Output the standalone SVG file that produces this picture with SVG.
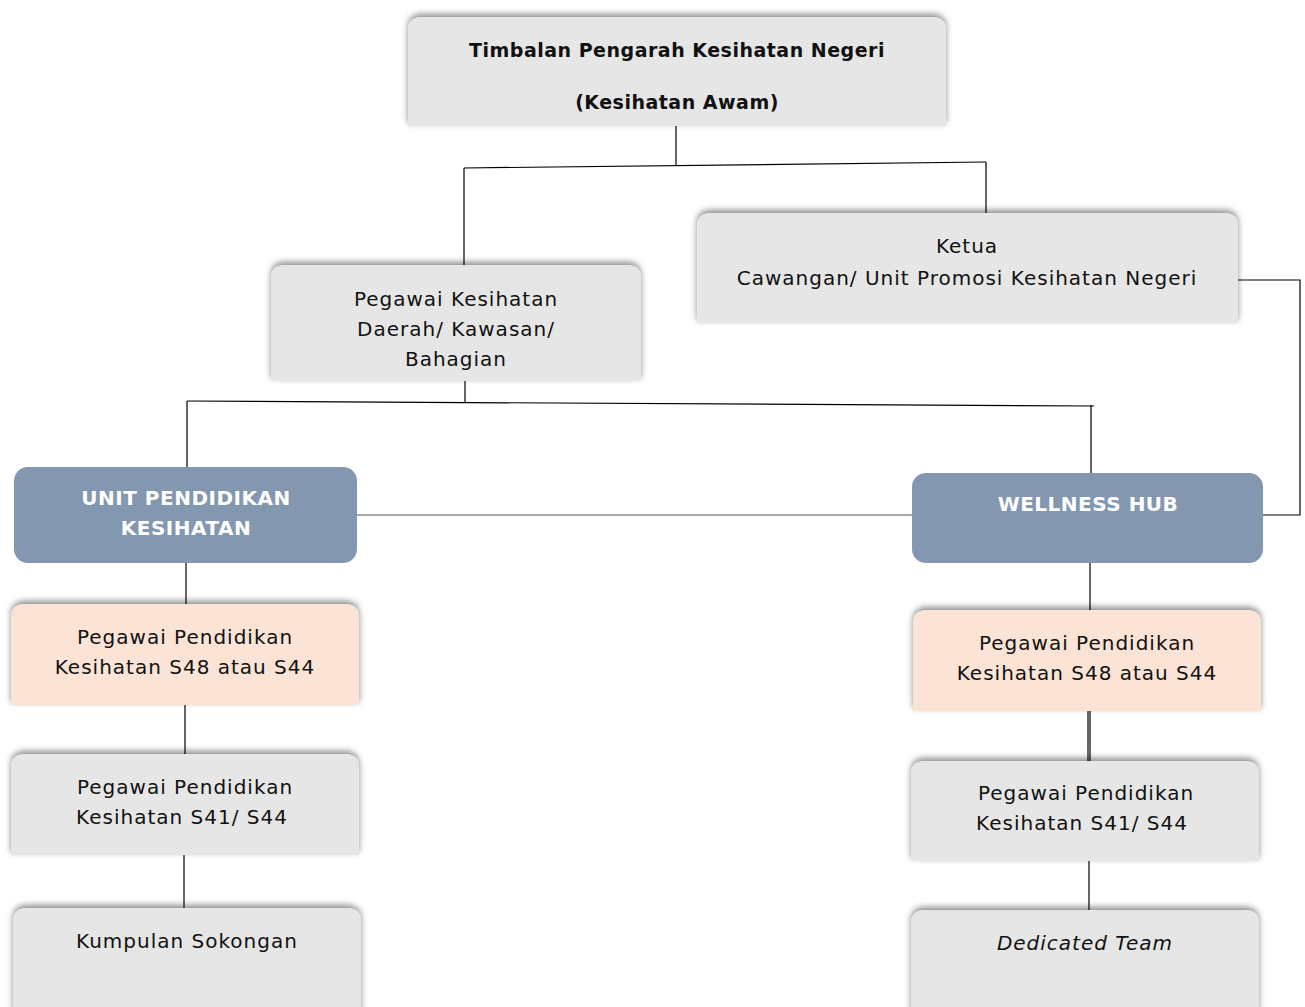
<svg xmlns="http://www.w3.org/2000/svg" width="1305" height="1007" viewBox="0 0 1305 1007">
<style>
.box{fill:#e6e6e6;filter:url(#sh)}
.peach{fill:#fbe4d5;filter:url(#sh)}
.blue{fill:#8497b0}
.t{font-family:"DejaVu Sans","Liberation Sans",sans-serif;font-size:20px;letter-spacing:1px;fill:#111;text-anchor:middle}
.b{font-weight:bold;font-size:19px;letter-spacing:0.5px}
.w{fill:#fff;font-weight:bold;font-size:20px;letter-spacing:0.5px}
.c{stroke:#000;stroke-width:1.2;fill:none}
.cg{stroke:#555;stroke-width:1.2;fill:none}
</style>
<defs>
<filter id="sh" x="-10%" y="-20%" width="120%" height="140%">
<feDropShadow dx="0" dy="-3" stdDeviation="3" flood-color="#000" flood-opacity="0.45"/>
</filter>
</defs>
<rect width="1305" height="1007" fill="#fff"/>
<g id="connectors">
<path class="c" d="M676 126 V165"/>
<path class="c" d="M464 168 L986 162"/>
<path class="c" d="M464 168 V265"/>
<path class="c" d="M986 162 V213"/>
<path class="c" d="M465 381 V403"/>
<path class="c" d="M187 401 L1094 406"/>
<path class="c" d="M187 401 V467"/>
<path class="c" d="M1091 405 V473"/>
<path class="cg" d="M357 515 H912"/>
<path class="c" d="M1238 280 H1300 V515 H1263"/>
<path class="c" d="M186 563 V604"/>
<path class="c" d="M185 705 V754"/>
<path class="c" d="M184 855 V908"/>
<path class="c" d="M1090 563 V610"/>
<path class="c" d="M1088 711 V761 M1090 711 V761"/>
<path class="c" d="M1089 861 V910"/>
</g>
<g id="n1"><path class="box" d="M408 126 V31 Q408 17 422 17 H932 Q946 17 946 31 V126 Z"/>
<text class="t b" x="677" y="57">Timbalan Pengarah Kesihatan Negeri</text>
<text class="t b" x="677" y="109">(Kesihatan Awam)</text></g>
<g id="n2"><path class="box" d="M271 381 V279 Q271 265 285 265 H627 Q641 265 641 279 V381 Z"/>
<text class="t" x="456" y="306">Pegawai Kesihatan</text>
<text class="t" x="456" y="336">Daerah/ Kawasan/</text>
<text class="t" x="456" y="366">Bahagian</text></g>
<g id="n3"><path class="box" d="M697 323 V227 Q697 213 711 213 H1224 Q1238 213 1238 227 V323 Z"/>
<text class="t" x="967" y="253">Ketua</text>
<text class="t" x="967" y="285">Cawangan/ Unit Promosi Kesihatan Negeri</text></g>
<g id="n4"><rect class="blue" x="14" y="467" width="343" height="96" rx="14"/>
<text class="t w" x="186" y="505">UNIT PENDIDIKAN</text>
<text class="t w" x="186" y="535">KESIHATAN</text></g>
<g id="n5"><rect class="blue" x="912" y="473" width="351" height="90" rx="14"/>
<text class="t w" x="1088" y="511">WELLNESS HUB</text></g>
<g id="n6"><path class="peach" d="M11 705 V618 Q11 604 25 604 H345 Q359 604 359 618 V705 Z"/>
<text class="t" x="185" y="644">Pegawai Pendidikan</text>
<text class="t" x="185" y="674">Kesihatan S48 atau S44</text></g>
<g id="n7"><path class="peach" d="M913 711 V624 Q913 610 927 610 H1247 Q1261 610 1261 624 V711 Z"/>
<text class="t" x="1087" y="650">Pegawai Pendidikan</text>
<text class="t" x="1087" y="680">Kesihatan S48 atau S44</text></g>
<g id="n8"><path class="box" d="M11 855 V768 Q11 754 25 754 H345 Q359 754 359 768 V855 Z"/>
<text class="t" x="185" y="794">Pegawai Pendidikan</text>
<text class="t" x="182" y="824">Kesihatan S41/ S44</text></g>
<g id="n9"><path class="box" d="M911 861 V775 Q911 761 925 761 H1245 Q1259 761 1259 775 V861 Z"/>
<text class="t" x="1086" y="800">Pegawai Pendidikan</text>
<text class="t" x="1082" y="830">Kesihatan S41/ S44</text></g>
<g id="n10"><path class="box" d="M13 1015 V922 Q13 908 27 908 H347 Q361 908 361 922 V1015 Z"/>
<text class="t" x="187" y="948">Kumpulan Sokongan</text></g>
<g id="n11"><path class="box" d="M911 1015 V924 Q911 910 925 910 H1245 Q1259 910 1259 924 V1015 Z"/>
<text class="t" x="1085" y="950" font-style="italic">Dedicated Team</text></g>
</svg>
